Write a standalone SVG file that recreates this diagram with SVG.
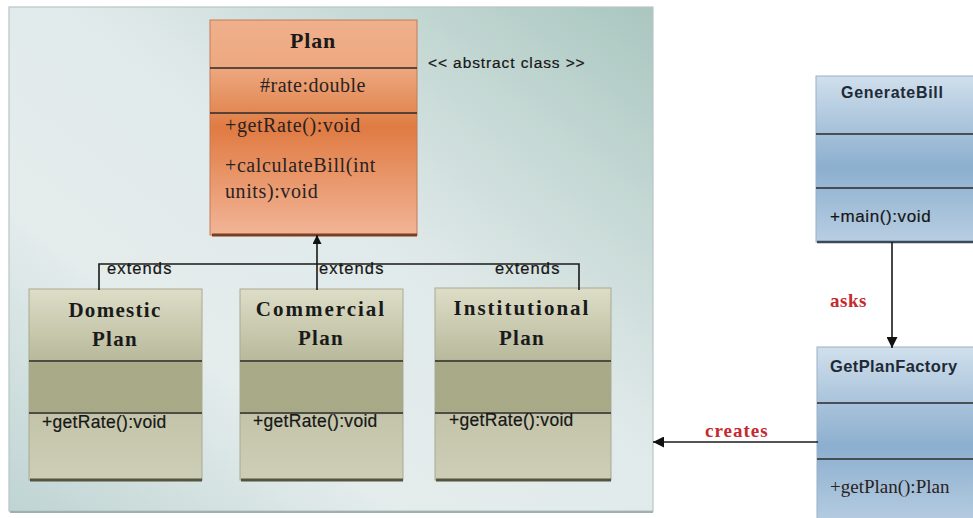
<svg xmlns="http://www.w3.org/2000/svg" width="973" height="518" viewBox="0 0 973 518">
<defs>
<linearGradient id="panelG" x1="1" y1="0" x2="0" y2="1">
<stop offset="0" stop-color="#a9c6bf"/>
<stop offset="0.2" stop-color="#c3d7d3"/>
<stop offset="0.45" stop-color="#e1eaea"/>
<stop offset="0.7" stop-color="#e4ecec"/>
<stop offset="1" stop-color="#bfd4d3"/>
</linearGradient>
<linearGradient id="orangeG" x1="0" y1="0" x2="0" y2="1">
<stop offset="0" stop-color="#f0b08c"/>
<stop offset="0.22" stop-color="#eda880"/>
<stop offset="0.42" stop-color="#e38a56"/>
<stop offset="0.5" stop-color="#e07b43"/>
<stop offset="1" stop-color="#f2b597"/>
</linearGradient>
<linearGradient id="oliveG" x1="0" y1="0" x2="0" y2="1">
<stop offset="0" stop-color="#dedec8"/>
<stop offset="0.37" stop-color="#b9b99c"/>
<stop offset="0.39" stop-color="#a9aa88"/>
<stop offset="0.64" stop-color="#a8a987"/>
<stop offset="0.66" stop-color="#c3c4a9"/>
<stop offset="1" stop-color="#cdceb6"/>
</linearGradient>
<linearGradient id="blueG" x1="0" y1="0" x2="0" y2="1">
<stop offset="0" stop-color="#d0dfec"/>
<stop offset="0.35" stop-color="#a4c0d9"/>
<stop offset="0.55" stop-color="#8cafcf"/>
<stop offset="1" stop-color="#b8cee2"/>
</linearGradient>
<marker id="arr" viewBox="0 0 10 10" refX="10" refY="5" markerWidth="9" markerHeight="9" markerUnits="userSpaceOnUse" orient="auto">
<path d="M0,0 L10,5 L0,10 Z" fill="#111"/>
</marker>
<marker id="arrL" viewBox="0 0 10 10" refX="10" refY="5" markerWidth="11" markerHeight="11" markerUnits="userSpaceOnUse" orient="auto">
<path d="M0,0 L10,5 L0,10 Z" fill="#111"/>
</marker>
</defs>
<style>
.serifB{font-family:"Liberation Serif","Times New Roman",serif;font-weight:bold;fill:#1a1a1a}
.serif{font-family:"Liberation Serif","Times New Roman",serif;fill:#2a2222}
.sans{font-family:"Liberation Sans",Arial,sans-serif;fill:#161616;stroke:#161616;stroke-width:0.2}
.sansB{font-family:"Liberation Sans",Arial,sans-serif;font-weight:bold;fill:#1e2a36}
.red{font-family:"Liberation Serif","Times New Roman",serif;font-weight:bold;fill:#c42a30}
.div{stroke:#2a2a2a;stroke-width:1.3}
.conn{stroke:#1a1a1a;stroke-width:1.6;fill:none}
</style>
<rect width="973" height="518" fill="#ffffff"/>
<g id="panel">
<rect x="9" y="7" width="644" height="504" fill="url(#panelG)" stroke="#b8c6c3" stroke-width="1.2"/>
<line x1="10" y1="512" x2="653" y2="512" stroke="#9fb0ad" stroke-width="2"/>
</g>
<g id="plan">
<rect x="210" y="20" width="207" height="215" fill="url(#orangeG)" stroke="#c27a58" stroke-width="1"/>
<line x1="212" y1="235" x2="417" y2="235" stroke="#7a3e20" stroke-width="3"/>
<line class="div" x1="210" y1="68" x2="417" y2="68"/>
<line class="div" x1="210" y1="113" x2="417" y2="113"/>
<text class="serifB" x="313" y="48" font-size="22" text-anchor="middle" letter-spacing="0.8">Plan</text>
<text class="serif" x="313" y="92" font-size="20" text-anchor="middle" letter-spacing="0.5">#rate:double</text>
<text class="serif" x="225" y="132" font-size="20" letter-spacing="0.6">+getRate():void</text>
<text class="serif" x="225" y="172" font-size="20" letter-spacing="0.6">+calculateBill(int</text>
<text class="serif" x="225" y="198" font-size="20" letter-spacing="0.6">units):void</text>
</g>
<text class="sans" x="428" y="68" font-size="15.5" letter-spacing="0.9">&lt;&lt; abstract class &gt;&gt;</text>
<g id="domestic">
<rect x="29" y="289" width="173" height="191" fill="url(#oliveG)" stroke="#a9aa92" stroke-width="1"/>
<line x1="30" y1="480" x2="202" y2="480" stroke="#55553f" stroke-width="3"/>
<line class="div" x1="29" y1="361" x2="202" y2="361"/>
<line class="div" x1="29" y1="413" x2="202" y2="413"/>
<text class="serifB" x="115" y="317" font-size="21" text-anchor="middle" letter-spacing="1.3">Domestic</text>
<text class="serifB" x="115" y="346" font-size="21" text-anchor="middle" letter-spacing="1.3">Plan</text>
<text class="sans" x="42" y="428" font-size="17.5" letter-spacing="0.3">+getRate():void</text>
</g>
<g id="commercial">
<rect x="240" y="289" width="163" height="191" fill="url(#oliveG)" stroke="#a9aa92" stroke-width="1"/>
<line x1="241" y1="480" x2="403" y2="480" stroke="#55553f" stroke-width="3"/>
<line class="div" x1="240" y1="361" x2="403" y2="361"/>
<line class="div" x1="240" y1="413" x2="403" y2="413"/>
<text class="serifB" x="321" y="316" font-size="21" text-anchor="middle" letter-spacing="2">Commercial</text>
<text class="serifB" x="321" y="345" font-size="21" text-anchor="middle" letter-spacing="1.3">Plan</text>
<text class="sans" x="253" y="427" font-size="17.5" letter-spacing="0.3">+getRate():void</text>
</g>
<g id="institutional">
<rect x="435" y="288" width="176" height="192" fill="url(#oliveG)" stroke="#a9aa92" stroke-width="1"/>
<line x1="436" y1="480" x2="611" y2="480" stroke="#55553f" stroke-width="3"/>
<line class="div" x1="435" y1="361" x2="611" y2="361"/>
<line class="div" x1="435" y1="413" x2="611" y2="413"/>
<text class="serifB" x="522" y="315" font-size="21" text-anchor="middle" letter-spacing="2">Institutional</text>
<text class="serifB" x="522" y="345" font-size="21" text-anchor="middle" letter-spacing="1.3">Plan</text>
<text class="sans" x="449" y="426" font-size="17.5" letter-spacing="0.3">+getRate():void</text>
</g>
<g id="generatebill">
<rect x="816" y="76" width="170" height="166" fill="url(#blueG)" stroke="#9ab0c4" stroke-width="1"/>
<line x1="817" y1="242" x2="973" y2="242" stroke="#3a4a5a" stroke-width="2.5"/>
<line class="div" x1="816" y1="134" x2="973" y2="134"/>
<line class="div" x1="816" y1="188" x2="973" y2="188"/>
<text class="sansB" x="841" y="98" font-size="16" letter-spacing="0.7">GenerateBill</text>
<text class="sans" x="830" y="222" font-size="17" letter-spacing="0.6">+main():void</text>
</g>
<g id="getplanfactory">
<rect x="817" y="347" width="170" height="180" fill="url(#blueG)" stroke="#9ab0c4" stroke-width="1"/>
<line class="div" x1="817" y1="403" x2="973" y2="403"/>
<line class="div" x1="817" y1="459" x2="973" y2="459"/>
<text class="sansB" x="830" y="372" font-size="16.5" letter-spacing="0.4">GetPlanFactory</text>
<text class="serif" x="830" y="493" font-size="19">+getPlan():Plan</text>
</g>
<g id="connectors">
<polyline class="conn" points="99,290 99,264 579,264 579,290"/>
<line class="conn" x1="317" y1="290" x2="317" y2="235" marker-end="url(#arr)"/>
<line class="conn" x1="892" y1="242" x2="892" y2="348" marker-end="url(#arrL)"/>
<line class="conn" x1="818" y1="442" x2="653" y2="442" marker-end="url(#arrL)"/>
<text class="sans" x="107" y="274" font-size="16.5" letter-spacing="1.1">extends</text>
<text class="sans" x="319" y="274" font-size="16.5" letter-spacing="1.1">extends</text>
<text class="sans" x="495" y="274" font-size="16.5" letter-spacing="1.1">extends</text>
<text class="red" x="830" y="307" font-size="19" letter-spacing="0.5">asks</text>
<text class="red" x="705" y="437" font-size="19" letter-spacing="1">creates</text>
</g>
</svg>
